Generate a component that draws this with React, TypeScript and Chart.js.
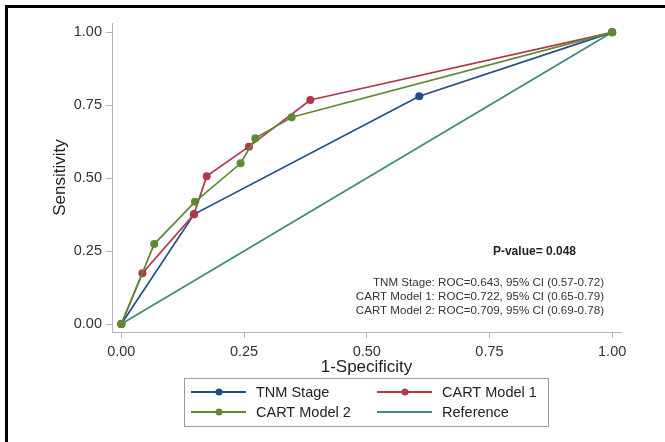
import React, { useEffect, useRef } from "react";
import { Chart, registerables } from "chart.js";

Chart.register(...registerables);

const tickValues = [0, 0.25, 0.5, 0.75, 1];

const tnmX = [0, 0.148, 0.607, 1];
const tnmY = [0, 0.376, 0.781, 1];
const cart1X = [0, 0.043, 0.148, 0.174, 0.26, 0.385, 1];
const cart1Y = [0, 0.174, 0.376, 0.507, 0.608, 0.768, 1];
const cart2X = [0, 0.067, 0.15, 0.243, 0.273, 0.347, 1];
const cart2Y = [0, 0.274, 0.419, 0.551, 0.637, 0.709, 1];
const refX = [0, 1];
const refY = [0, 1];

const seriesNames = ["TNM Stage", "CART Model 1", "CART Model 2", "Reference"];
const pValueText = "P-value= 0.048";
const rocLines = [
  "TNM Stage: ROC=0.643, 95% CI (0.57-0.72)",
  "CART Model 1: ROC=0.722, 95% CI (0.65-0.79)",
  "CART Model 2: ROC=0.709, 95% CI (0.69-0.78)",
];

const COLORS = ["#1f4e84", "#b0384a", "#5e8a32", "#3a8a7a"];
const FONT = "'Liberation Sans', Arial, Helvetica, sans-serif";
const AXIS_GRAY = "#b4b4b4";

const pts = (xs: number[], ys: number[]) => xs.map((x, i) => ({ x, y: ys[i] }));

const overlayPlugin = {
  id: "overlay",
  afterDraw(chart: any) {
    const ctx = chart.ctx as CanvasRenderingContext2D;
    ctx.save();
    // frame
    ctx.fillStyle = "#000";
    ctx.fillRect(5, 5, 660, 3);
    ctx.fillRect(5, 5, 3, 437);

    // annotations
    ctx.fillStyle = "#222";
    ctx.textBaseline = "middle";
    ctx.font = `bold 12px ${FONT}`;
    ctx.textAlign = "right";
    ctx.fillText(pValueText, 576, 252);
    ctx.font = `11.6px ${FONT}`;
    ctx.fillStyle = "#333";
    rocLines.forEach((t, i) => ctx.fillText(t, 604, 283 + i * 14));

    // legend
    ctx.strokeStyle = "#999";
    ctx.lineWidth = 1;
    ctx.strokeRect(184.5, 378.5, 364, 48);
    const cols = [191, 377];
    const rows = [392, 412];
    const ds = chart.data.datasets;
    for (let i = 0; i < 4; i++) {
      const cx = cols[i % 2];
      const cy = rows[Math.floor(i / 2)];
      const d = ds[i];
      ctx.strokeStyle = d.borderColor;
      ctx.lineWidth = 1.8;
      ctx.beginPath();
      ctx.moveTo(cx, cy);
      ctx.lineTo(cx + 55, cy);
      ctx.stroke();
      if (d.pointRadius > 0) {
        ctx.fillStyle = d.borderColor;
        ctx.beginPath();
        ctx.arc(cx + 28, cy, 3.5, 0, Math.PI * 2);
        ctx.fill();
      }
      ctx.fillStyle = "#222";
      ctx.textAlign = "left";
      ctx.font = `14.5px ${FONT}`;
      ctx.fillText(d.label, cx + 65, cy + 1);
    }
    ctx.restore();
  },
};

export default function App() {
  const ref = useRef<HTMLCanvasElement | null>(null);
  useEffect(() => {
    document.body.style.margin = "0";
    const canvas = ref.current!;
    const mk = (i: number, data: any[], radius: number, order: number) => ({
      label: seriesNames[i],
      data,
      showLine: true,
      borderColor: COLORS[i],
      backgroundColor: COLORS[i],
      borderWidth: 1.7,
      pointRadius: radius,
      pointBorderWidth: 0,
      pointHoverRadius: radius,
      order,
    });
    const chart = new Chart(canvas, {
      type: "scatter",
      data: {
        datasets: [
          mk(0, pts(tnmX, tnmY), 4, 3),
          mk(1, pts(cart1X, cart1Y), 4, 2),
          mk(2, pts(cart2X, cart2Y), 4, 1),
          mk(3, pts(refX, refY), 0, 4),
        ],
      },
      options: {
        animation: false,
        responsive: false,
        events: [],
        layout: { padding: { left: 0, top: 23, right: 44, bottom: 64 } },
        plugins: { legend: { display: false }, tooltip: { enabled: false } },
        scales: {
          x: {
            type: "linear",
            min: -0.019,
            max: 1.018,
            afterFit: (s: any) => {
              s.height = 46;
            },
            afterBuildTicks: (s: any) => {
              s.ticks = tickValues.map((v) => ({ value: v }));
            },
            ticks: {
              padding: 5,
              color: "#333",
              font: { family: FONT, size: 14.5 },
              callback: (v: any) => Number(v).toFixed(2),
            },
            grid: { drawOnChartArea: false, drawTicks: true, tickLength: 6, color: AXIS_GRAY },
            border: { display: true, color: AXIS_GRAY, width: 1 },
            title: {
              display: true,
              text: "1-Specificity",
              color: "#222",
              font: { family: FONT, size: 17 },
              padding: { top: 0, bottom: 0 },
            },
          },
          y: {
            type: "linear",
            min: -0.0274,
            max: 1.032,
            afterFit: (s: any) => {
              s.width = 112;
            },
            afterBuildTicks: (s: any) => {
              s.ticks = tickValues.map((v) => ({ value: v }));
            },
            ticks: {
              padding: 4,
              color: "#333",
              font: { family: FONT, size: 14.5 },
              callback: (v: any) => Number(v).toFixed(2),
            },
            grid: { drawOnChartArea: false, drawTicks: true, tickLength: 6, color: AXIS_GRAY },
            border: { display: true, color: AXIS_GRAY, width: 1 },
            title: {
              display: true,
              text: "Sensitivity",
              color: "#222",
              font: { family: FONT, size: 17 },
              padding: { top: 50, bottom: 0 },
            },
          },
        },
      },
      plugins: [overlayPlugin],
    } as any);
    return () => chart.destroy();
  }, []);
  return (
    <div style={{ width: 665, height: 442, background: "#fff" }}>
      <canvas ref={ref} width={665} height={442} style={{ display: "block" }} />
    </div>
  );
}
